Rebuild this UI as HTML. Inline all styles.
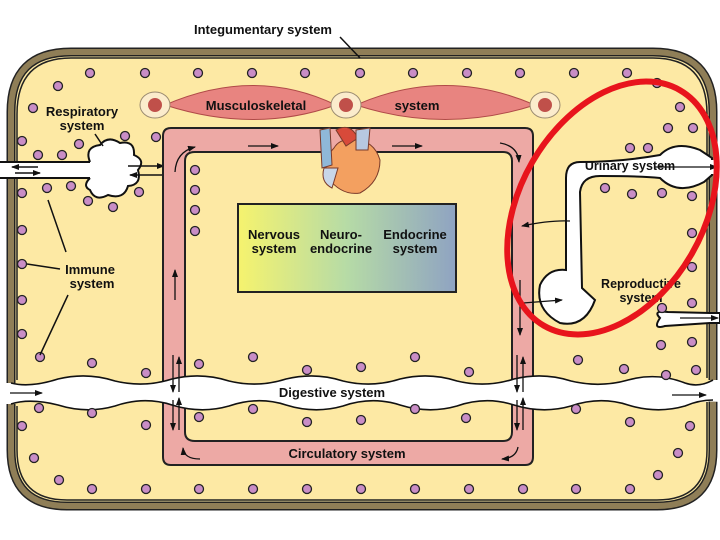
<!DOCTYPE html>
<html><head><meta charset="utf-8"><style>
html,body{margin:0;padding:0;background:#fff;}
svg{display:block;}
text{font-family:"Liberation Sans",sans-serif;font-weight:bold;fill:#111;}
</style></head><body>
<svg width="720" height="540" viewBox="0 0 720 540" xmlns="http://www.w3.org/2000/svg">
<defs>
<linearGradient id="g" x1="0" x2="1" y1="0" y2="0">
<stop offset="0" stop-color="#f6f36e"/><stop offset="0.5" stop-color="#b6dba6"/><stop offset="1" stop-color="#8fa3c2"/>
</linearGradient>
<marker id="a" markerWidth="8" markerHeight="6" refX="7" refY="3" orient="auto" markerUnits="userSpaceOnUse"><path d="M0,0 L8,3 L0,6 Z" fill="#111"/></marker>
</defs>
<!-- top body fill -->
<path d="M11,383 L11,112 Q11,52 71,52 L653,52 Q713,52 713,112 L713,380 Q699,388 685,383 Q657,372 628,380 Q600,388 571,381 Q543,372 514,379 Q486,388 457,381 Q429,372 400,379 Q372,388 343,381 Q315,372 286,379 Q258,388 229,381 Q201,372 172,379 Q144,388 115,381 Q87,372 58,379 Q30,388 11,383 Z" fill="#fde9a4"/>
<path d="M11,404 Q30,398 58,405 Q87,414 115,406 Q144,396 172,405 Q201,414 229,406 Q258,396 286,405 Q315,414 343,406 Q372,396 400,405 Q429,414 457,406 Q486,396 514,405 Q543,414 571,406 Q600,396 628,405 Q657,414 685,406 Q699,400 713,400 L713,450 Q713,506 657,506 L67,506 Q11,506 11,450 Z" fill="#fde9a4"/>
<!-- borders -->
<g fill="none">
<path d="M11,383 L11,112 Q11,52 71,52 L653,52 Q713,52 713,112 L713,380" stroke="#222" stroke-width="9"/>
<path d="M11,383 L11,112 Q11,52 71,52 L653,52 Q713,52 713,112 L713,380" stroke="#8f7e57" stroke-width="6"/>
<path d="M17,380 L17,114 Q17,58 71,58 L653,58 Q707,58 707,114 L707,378" stroke="#222" stroke-width="1.5"/>
<path d="M11,404 L11,450 Q11,506 67,506 L657,506 Q713,506 713,450 L713,400" stroke="#222" stroke-width="9"/>
<path d="M11,404 L11,450 Q11,506 67,506 L657,506 Q713,506 713,450 L713,400" stroke="#8f7e57" stroke-width="6"/>
<path d="M17,406 L17,450 Q17,500 67,500 L657,500 Q707,500 707,450 L707,402" stroke="#222" stroke-width="1.5"/>
</g>
<!-- respiratory channel -->
<rect x="0" y="163" width="95" height="14" fill="#fff"/>
<path d="M0,162 L90,162 M0,178 L90,178" stroke="#111" stroke-width="2"/>
<path d="M90,162 Q84,147 100,145 Q108,135 120,143 Q135,140 134,155 Q146,160 138,170 Q142,185 128,186 Q124,200 108,195 Q95,202 90,190 Q82,186 90,178" fill="#fff" stroke="#111" stroke-width="2"/>
<rect x="86" y="163" width="8" height="14" fill="#fff"/>
<g stroke="#111" stroke-width="1.5" fill="none" marker-end="url(#a)">
<path d="M38,167 L12,167"/><path d="M15,173 L40,173"/>
<path d="M128,166 L164,166"/><path d="M164,175 L130,175"/>
</g>
<!-- circulatory frame -->
<path fill-rule="evenodd" d="M171,128 L525,128 Q533,128 533,136 L533,457 Q533,465 525,465 L171,465 Q163,465 163,457 L163,136 Q163,128 171,128 Z M195,152 L503,152 Q512,152 512,161 L512,432 Q512,441 503,441 L195,441 Q185,441 185,432 L185,161 Q185,152 195,152 Z" fill="#eda9a5" stroke="#222" stroke-width="2"/>
<!-- digestive strip -->
<path d="M0,383 Q30,388 58,379 Q87,372 115,381 Q144,388 172,379 Q201,372 229,381 Q258,388 286,379 Q315,372 343,381 Q372,388 400,379 Q429,372 457,381 Q486,388 514,379 Q543,372 571,381 Q600,388 628,380 Q657,372 685,383 Q699,388 720,380 L720,402 Q699,400 685,406 Q657,414 628,405 Q600,396 571,406 Q543,414 514,405 Q486,396 457,406 Q429,414 400,405 Q372,396 343,406 Q315,414 286,405 Q258,396 229,406 Q201,414 172,405 Q144,396 115,406 Q87,414 58,405 Q30,398 0,404 Z" fill="#fff"/>
<path d="M11,383 Q30,388 58,379 Q87,372 115,381 Q144,388 172,379 Q201,372 229,381 Q258,388 286,379 Q315,372 343,381 Q372,388 400,379 Q429,372 457,381 Q486,388 514,379 Q543,372 571,381 Q600,388 628,380 Q657,372 685,383 Q699,388 713,380" fill="none" stroke="#111" stroke-width="1.6"/>
<path d="M11,404 Q30,398 58,405 Q87,414 115,406 Q144,396 172,405 Q201,414 229,406 Q258,396 286,405 Q315,414 343,406 Q372,396 400,405 Q429,414 457,406 Q486,396 514,405 Q543,414 571,406 Q600,396 628,405 Q657,414 685,406 Q699,400 713,400" fill="none" stroke="#111" stroke-width="1.6"/>
<g stroke="#111" stroke-width="1.3" fill="none" marker-end="url(#a)">
<path d="M10,393 L42,393"/><path d="M672,395 L706,395"/>
<path d="M173,355 L173,392"/><path d="M179,392 L179,357"/>
<path d="M173,400 L173,430"/><path d="M179,430 L179,398"/>
<path d="M517,355 L517,392"/><path d="M523,392 L523,357"/>
<path d="M517,400 L517,430"/><path d="M523,430 L523,398"/>
<path d="M175,300 L175,270"/><path d="M175,172 Q176,152 195,147"/>
<path d="M248,146 L278,146"/><path d="M392,146 L422,146"/>
<path d="M500,143 Q518,146 519,162"/><path d="M520,280 L520,335"/>
<path d="M518,447 Q516,458 502,459"/><path d="M200,459 Q184,459 183,448"/>
</g>
<!-- gradient box -->
<rect x="238" y="204" width="218" height="88" fill="url(#g)" stroke="#222" stroke-width="2"/>
<text x="274" y="239" font-size="13" text-anchor="middle">Nervous</text>
<text x="274" y="253" font-size="13" text-anchor="middle">system</text>
<text x="341" y="239" font-size="13" text-anchor="middle">Neuro-</text>
<text x="341" y="253" font-size="13" text-anchor="middle">endocrine</text>
<text x="415" y="239" font-size="13" text-anchor="middle">Endocrine</text>
<text x="415" y="253" font-size="13" text-anchor="middle">system</text>
<!-- muscles -->
<path d="M165,105 Q255,66 336,105 Q255,134 165,105 Z" fill="#e88480" stroke="#b04a48"/>
<path d="M356,105 Q445,66 535,105 Q445,134 356,105 Z" fill="#e88480" stroke="#b04a48"/>
<ellipse cx="155" cy="105" rx="15" ry="13" fill="#fbeccc" stroke="#9a8a70"/><circle cx="155" cy="105" r="7" fill="#c0504a"/>
<ellipse cx="346" cy="105" rx="15" ry="13" fill="#fbeccc" stroke="#9a8a70"/><circle cx="346" cy="105" r="7" fill="#c0504a"/>
<ellipse cx="545" cy="105" rx="15" ry="13" fill="#fbeccc" stroke="#9a8a70"/><circle cx="545" cy="105" r="7" fill="#c0504a"/>
<text x="256" y="110" font-size="13" text-anchor="middle">Musculoskeletal</text>
<text x="417" y="110" font-size="13" text-anchor="middle">system</text>
<!-- heart -->
<g stroke="#7a3a2a" stroke-width="1">
<path d="M334,148 Q322,160 328,178 Q342,196 360,193 Q380,182 380,160 Q374,140 354,140 Q340,138 334,148 Z" fill="#f3a060"/>
<path d="M320,130 L330,128 L332,165 L322,168 Z" fill="#8fb8d8"/>
<path d="M336,130 Q350,122 358,138 L346,146 Z" fill="#d84a3a"/>
<path d="M356,130 L370,128 L368,150 L356,150 Z" fill="#b7c8e0"/>
<path d="M324,168 Q320,182 332,188 L338,168 Z" fill="#c8d6e8"/>
</g>
<!-- urinary / reproductive -->
<path d="M700,150 Q675,140 660,155 Q620,162 580,162 Q566,162 566,178 L566,270 Q548,268 540,285 Q535,310 560,323 Q585,328 595,300 L582,288 L580,192 Q582,176 600,176 Q640,176 660,178 Q678,196 704,182 L712,175 L712,158 Z" fill="#fff" stroke="#111" stroke-width="2"/>
<rect x="705" y="160" width="15" height="14" fill="#fff"/>
<path d="M660,318 Q652,330 665,326 L710,323 L720,323 L720,313 L710,313 L668,312 Q652,310 660,318 Z" fill="#fff" stroke="#111" stroke-width="2"/>
<g stroke="#111" stroke-width="1.3" fill="none" marker-end="url(#a)">
<path d="M655,167 L717,167"/><path d="M680,318 L718,318"/>
<path d="M570,221 Q550,220 522,226"/><path d="M523,303 L562,300"/>
</g>
<text x="630" y="170" font-size="12.5" text-anchor="middle">Urinary system</text>
<text x="641" y="288" font-size="12.5" text-anchor="middle">Reproductive</text>
<text x="641" y="302" font-size="12.5" text-anchor="middle">system</text>
<!-- dots -->
<g fill="#c98dc6" stroke="#222" stroke-width="1.3">
<circle cx="90" cy="73" r="4.5"/><circle cx="145" cy="73" r="4.5"/><circle cx="198" cy="73" r="4.5"/><circle cx="252" cy="73" r="4.5"/><circle cx="305" cy="73" r="4.5"/><circle cx="360" cy="73" r="4.5"/><circle cx="413" cy="73" r="4.5"/><circle cx="467" cy="73" r="4.5"/><circle cx="520" cy="73" r="4.5"/><circle cx="574" cy="73" r="4.5"/><circle cx="627" cy="73" r="4.5"/><circle cx="657" cy="83" r="4.5"/>
<circle cx="58" cy="86" r="4.5"/><circle cx="33" cy="108" r="4.5"/><circle cx="22" cy="141" r="4.5"/><circle cx="38" cy="155" r="4.5"/><circle cx="62" cy="155" r="4.5"/><circle cx="79" cy="144" r="4.5"/><circle cx="125" cy="136" r="4.5"/><circle cx="156" cy="137" r="4.5"/>
<circle cx="22" cy="193" r="4.5"/><circle cx="47" cy="188" r="4.5"/><circle cx="71" cy="186" r="4.5"/><circle cx="88" cy="201" r="4.5"/><circle cx="113" cy="207" r="4.5"/><circle cx="139" cy="192" r="4.5"/>
<circle cx="22" cy="230" r="4.5"/><circle cx="22" cy="264" r="4.5"/><circle cx="22" cy="300" r="4.5"/><circle cx="22" cy="334" r="4.5"/><circle cx="40" cy="357" r="4.5"/>
<circle cx="195" cy="170" r="4.5"/><circle cx="195" cy="190" r="4.5"/><circle cx="195" cy="210" r="4.5"/><circle cx="195" cy="231" r="4.5"/>
<circle cx="92" cy="363" r="4.5"/><circle cx="146" cy="373" r="4.5"/><circle cx="199" cy="364" r="4.5"/><circle cx="253" cy="357" r="4.5"/><circle cx="307" cy="370" r="4.5"/><circle cx="361" cy="367" r="4.5"/><circle cx="415" cy="357" r="4.5"/><circle cx="469" cy="372" r="4.5"/><circle cx="578" cy="360" r="4.5"/><circle cx="624" cy="369" r="4.5"/><circle cx="666" cy="375" r="4.5"/><circle cx="696" cy="370" r="4.5"/><circle cx="661" cy="345" r="4.5"/><circle cx="692" cy="342" r="4.5"/>
<circle cx="39" cy="408" r="4.5"/><circle cx="92" cy="413" r="4.5"/><circle cx="146" cy="425" r="4.5"/><circle cx="199" cy="417" r="4.5"/><circle cx="253" cy="409" r="4.5"/><circle cx="307" cy="422" r="4.5"/><circle cx="361" cy="420" r="4.5"/><circle cx="415" cy="409" r="4.5"/><circle cx="466" cy="418" r="4.5"/><circle cx="576" cy="409" r="4.5"/><circle cx="630" cy="422" r="4.5"/><circle cx="690" cy="426" r="4.5"/><circle cx="22" cy="426" r="4.5"/><circle cx="34" cy="458" r="4.5"/><circle cx="59" cy="480" r="4.5"/><circle cx="678" cy="453" r="4.5"/><circle cx="658" cy="475" r="4.5"/>
<circle cx="92" cy="489" r="4.5"/><circle cx="146" cy="489" r="4.5"/><circle cx="199" cy="489" r="4.5"/><circle cx="253" cy="489" r="4.5"/><circle cx="307" cy="489" r="4.5"/><circle cx="361" cy="489" r="4.5"/><circle cx="415" cy="489" r="4.5"/><circle cx="469" cy="489" r="4.5"/><circle cx="523" cy="489" r="4.5"/><circle cx="576" cy="489" r="4.5"/><circle cx="630" cy="489" r="4.5"/>
<circle cx="680" cy="107" r="4.5"/><circle cx="668" cy="128" r="4.5"/><circle cx="693" cy="128" r="4.5"/><circle cx="630" cy="148" r="4.5"/><circle cx="648" cy="148" r="4.5"/><circle cx="605" cy="188" r="4.5"/><circle cx="632" cy="194" r="4.5"/><circle cx="662" cy="193" r="4.5"/><circle cx="692" cy="196" r="4.5"/><circle cx="692" cy="233" r="4.5"/><circle cx="692" cy="267" r="4.5"/><circle cx="692" cy="303" r="4.5"/><circle cx="662" cy="308" r="4.5"/>
</g>
<!-- labels -->
<text x="90" y="274" font-size="13" text-anchor="middle">Immune</text>
<text x="92" y="288" font-size="13" text-anchor="middle">system</text>
<path d="M48,200 L66,252 M27,264 L60,269 M40,355 L68,295" stroke="#111" stroke-width="1.5"/>
<text x="82" y="116" font-size="13" text-anchor="middle">Respiratory</text>
<text x="82" y="130" font-size="13" text-anchor="middle">system</text>
<path d="M95,134 L103,146" stroke="#111" stroke-width="1.5"/>
<text x="263" y="34" font-size="13" text-anchor="middle">Integumentary system</text>
<path d="M340,37 L360,58" stroke="#111" stroke-width="1.5"/>
<text x="332" y="397" font-size="13" text-anchor="middle">Digestive system</text>
<text x="347" y="458" font-size="13" text-anchor="middle">Circulatory system</text>
<!-- red ellipse -->
<ellipse cx="612" cy="208" rx="92" ry="136" transform="rotate(30 612 208)" fill="none" stroke="#e8141c" stroke-width="6"/>
</svg>
</body></html>
